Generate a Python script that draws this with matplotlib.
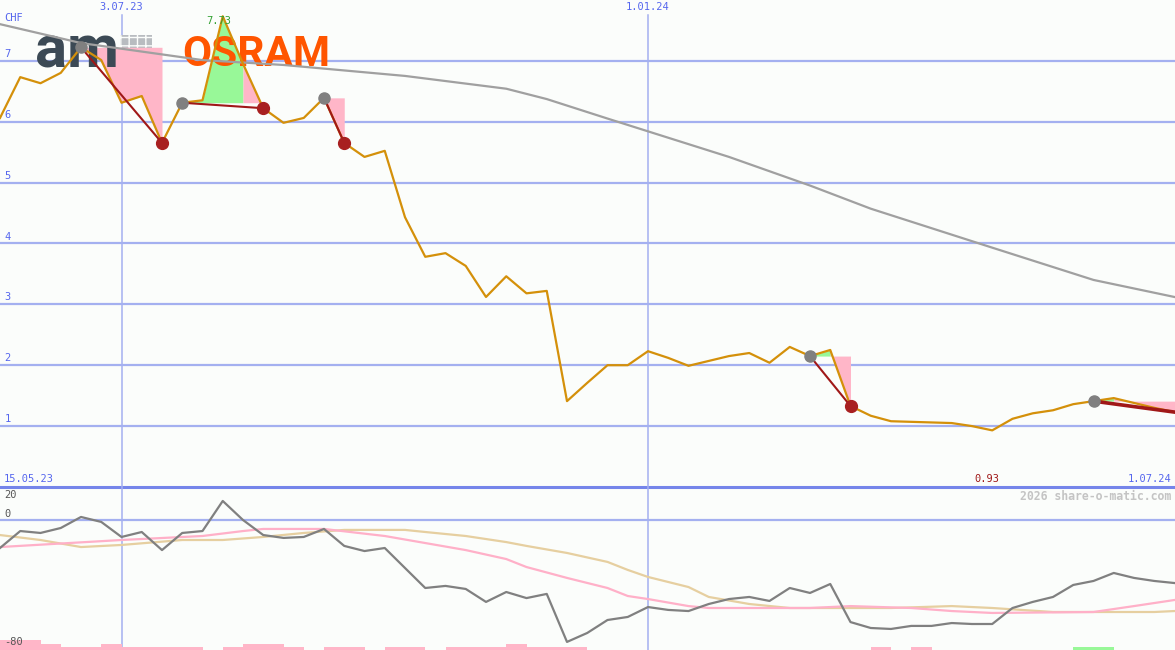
import numpy as np
import matplotlib
matplotlib.use('Agg')
import matplotlib.pyplot as plt
from matplotlib.patches import Rectangle
from datetime import date

# weekly closes (CHF), first week starts 22.05.23
start = date(2023, 5, 22)
price = [6.06, 6.73, 6.63, 6.80, 7.22, 7.01, 6.31, 6.42, 5.65, 6.31,
         6.35, 7.73, 6.95, 6.22, 5.98, 6.06, 6.39, 5.65, 5.42, 5.52,
         4.43, 3.78, 3.84, 3.63, 3.12, 3.46, 3.18, 3.22, 1.41, 1.71,
         2.00, 2.00, 2.23, 2.12, 1.99, 2.07, 2.15, 2.20, 2.04, 2.30,
         2.15, 2.25, 1.33, 1.17, 1.08, 1.07, 1.06, 1.05, 1.00, 0.93,
         1.12, 1.21, 1.26, 1.36, 1.41, 1.46, 1.38, 1.30, 1.23]

# long moving average, read at some weeks
ma_x = [0, 4, 10, 14, 16, 20, 25, 27, 30, 32, 36, 40, 43, 49, 54, 58]
ma_vals = [7.60, 7.29, 7.01, 6.93, 6.87, 6.75, 6.54, 6.37, 6.05, 5.84,
           5.42, 4.95, 4.57, 3.93, 3.40, 3.12]

# signals: start week, end week, week where green turns pink, end marker
sig_start = [4, 9, 16, 40, 54]
sig_end = [8, 13, 17, 42, 58]
sig_split = [4, 12, 16, 41, 55]
sig_closed = [True, True, True, True, False]

price_ticks = [1, 2, 3, 4, 5, 6, 7]
date_lines = [date(2023, 7, 3), date(2024, 1, 1)]
date_labels = ['3.07.23', '1.01.24']

# lower panel oscillator
osc = [-17.5, -6.9, -8.1, -5.0, 1.9, -1.2, -10.6, -7.5, -18.8, -8.1,
       -6.9, 11.9, 0.0, -9.4, -11.2, -10.6, -5.6, -16.2, -19.4, -17.5,
       -30.0, -42.5, -41.2, -43.1, -51.2, -45.0, -48.8, -46.2, -76.2, -70.6,
       -62.5, -60.6, -54.4, -56.2, -56.9, -52.5, -49.4, -48.1, -50.6, -42.5,
       -45.6, -40.0, -63.8, -67.5, -68.1, -66.2, -66.2, -64.4, -65.0, -65.0,
       -55.0, -51.2, -48.1, -40.6, -38.1, -33.1, -36.2, -38.1, -39.4]
pink_x = [0, 6, 10, 12, 13, 16, 19, 21, 23, 25, 26, 28, 30, 31, 32, 34, 35,
          40, 42, 45, 47, 49, 54, 56, 58]
pink_vals = [-16.9, -12.5, -10.0, -6.9, -5.6, -5.6, -10.0, -14.4, -18.8, -24.4,
             -29.4, -36.2, -42.5, -47.5, -49.4, -53.8, -55.0, -55.0, -53.8,
             -55.0, -56.9, -58.1, -57.5, -53.8, -50.0]
tan_x = [0, 2, 4, 6, 9, 11, 13, 15, 17, 20, 21, 23, 25, 26, 28, 30, 31, 32,
         34, 35, 37, 39, 44, 47, 49, 52, 57, 58]
tan_vals = [-9.4, -12.5, -16.9, -15.6, -12.5, -12.5, -10.6, -8.1, -6.2, -6.2,
            -7.5, -10.0, -13.8, -16.2, -20.6, -26.2, -31.2, -35.6, -41.9,
            -48.1, -52.5, -55.0, -55.0, -53.8, -55.0, -57.5, -57.5, -56.9]
# small bars at the bottom (0 = none), green weeks
bars = [6, 6, 4, 2, 2, 4, 2, 2, 2, 2, 0, 2, 4, 4, 2, 0, 2, 2, 0, 2,
        2, 0, 2, 2, 2, 4, 2, 2, 2, 0, 0, 0, 0, 0, 0, 0, 0, 0, 0, 0,
        0, 0, 0, 2, 0, 2, 0, 0, 0, 0, 0, 0, 0, 2, 2, 0, 0, 0, 0]
bar_green = [53, 54]

bg = '#fbfdfb'
blue_txt = '#5566ee'
grid_c = '#a4b0f0'
mono = 'DejaVu Sans Mono'

fig = plt.figure(figsize=(11.75, 6.5), dpi=100)
fig.patch.set_facecolor(bg)
ax = fig.add_axes([0, 163 / 650, 1, 487 / 650])
ax2 = fig.add_axes([0, 0, 1, 163 / 650])
for a in (ax, ax2):
    a.set_axis_off()
    a.set_xlim(0, 1175 / 20.25)
ax.set_ylim(0, 487 / 60.9)
ax2.set_ylim(-81.25, 20.625)

x = np.arange(len(price))
p = np.array(price)

# grid
for v in price_ticks:
    ax.axhline(v, color=grid_c, lw=1.6, zorder=1)
    ax.text(0.004, v + 0.03, str(v), transform=ax.get_yaxis_transform(),
            color=blue_txt, fontsize=7.5, family=mono, va='bottom', ha='left')
ax.axhline(0, color='#7585ea', lw=2.2, zorder=1, clip_on=False)
ax2.axhline(0, color=grid_c, lw=1.6, zorder=1)
for d, lab in zip(date_lines, date_labels):
    xv = (d - start).days / 7
    ax.axvline(xv, ymax=0.969, color=grid_c, lw=1.1, zorder=1)
    ax2.axvline(xv, color=grid_c, lw=1.1, zorder=1)
    ax.text(xv, 0.985, lab, transform=ax.get_xaxis_transform(), color=blue_txt,
            fontsize=7.5, family=mono, ha='center', va='center')

# logos
ax.add_patch(Rectangle((120 / 20.25, (487 - 68) / 60.9), 32 / 20.25, 33 / 60.9,
                       facecolor='#b8bcc0', edgecolor='#fbfdfb', hatch='++',
                       lw=0, zorder=1.5))
ax.text(35 / 20.25, (487 - 67) / 60.9, 'am', family='Roboto', weight='bold',
        fontsize=43, color='#3c4a55', va='baseline', ha='left', zorder=2.5)
ax.text(182 / 20.25, (487 - 66) / 60.9, 'OSRAM', family='Roboto', weight='bold',
        fontsize=30.5, color='#ff5500', va='baseline', ha='left', zorder=2.5)

# signal areas
for s, e, k, closed in zip(sig_start, sig_end, sig_split, sig_closed):
    lvl = p[s]
    if k > s:
        ax.fill_between(x[s:k + 1], lvl, p[s:k + 1], color='#98f898', lw=0, zorder=2)
    ax.fill_between(x[k:e + 1], lvl, p[k:e + 1], color='#ffb6c8', lw=0, zorder=2)

ax.plot(ma_x, ma_vals, color='#a0a0a0', lw=1.6, zorder=3)
ax.plot(x, p, color='#d4900a', lw=1.6, zorder=4)

for s, e, k, closed in zip(sig_start, sig_end, sig_split, sig_closed):
    ax.plot([s, e], [p[s], p[e]], color='#a01818', lw=1.5 if closed else 2.6, zorder=5)
    ax.plot(s, p[s], 'o', color='#808080', ms=8, zorder=6)
    if closed:
        ax.plot(e, p[e], 'o', color='#a82020', ms=8.5, zorder=6)

# labels
ax.text(0.004, 1 - 18 / 487, 'CHF', transform=ax.transAxes, color=blue_txt,
        fontsize=7.5, family=mono, ha='left', va='center')
imax = int(np.argmax(p))
ax.text(imax - 0.2, 1 - 21 / 487, f'{p[imax]:.2f}', transform=ax.get_xaxis_transform(),
        color='#30a030', fontsize=7.5, family=mono, ha='center', va='center', zorder=7)
imin = int(np.argmin(p))
ax.text(imin - 0.25, 8 / 487, f'{p[imin]:.2f}', transform=ax.get_xaxis_transform(),
        color='#a01818', fontsize=7.5, family=mono, ha='center', va='center')
ax.text(0.003, 8 / 487, '15.05.23', transform=ax.transAxes, color=blue_txt,
        fontsize=7.5, family=mono, ha='left', va='center')
ax.text(0.997, 8 / 487, '1.07.24', transform=ax.transAxes, color=blue_txt,
        fontsize=7.5, family=mono, ha='right', va='center')

# lower panel
bx = np.arange(len(bars))
bcol = ['#98f898' if i in bar_green else '#ffb6c8' for i in bx]
ax2.bar(bx, bars, bottom=-81.25, width=1, align='edge', color=bcol, lw=0, zorder=2)
ax2.plot(tan_x, tan_vals, color='#e6cfa0', lw=1.6, zorder=3)
ax2.plot(pink_x, pink_vals, color='#ffb0c8', lw=1.6, zorder=3)
ax2.plot(x, osc, color='#808080', lw=1.6, zorder=4)
ax2.text(0.004, 0.95, '20', transform=ax2.transAxes, color='#555555',
         fontsize=7.5, family=mono, ha='left', va='center')
ax2.text(0.004, 4, '0', transform=ax2.get_yaxis_transform(), color='#555555',
         fontsize=7.5, family=mono, ha='left', va='center')
ax2.text(0.004, -76, '-80', transform=ax2.get_yaxis_transform(), color='#555555',
         fontsize=7.5, family=mono, ha='left', va='center')
ax2.text(0.997, 1 - 9 / 163, '2026 share-o-matic.com', transform=ax2.transAxes,
         color='#c4c4c4', fontsize=8.3, family=mono, weight='bold',
         ha='right', va='center')

fig.savefig('out.png', dpi=100, facecolor=bg)
